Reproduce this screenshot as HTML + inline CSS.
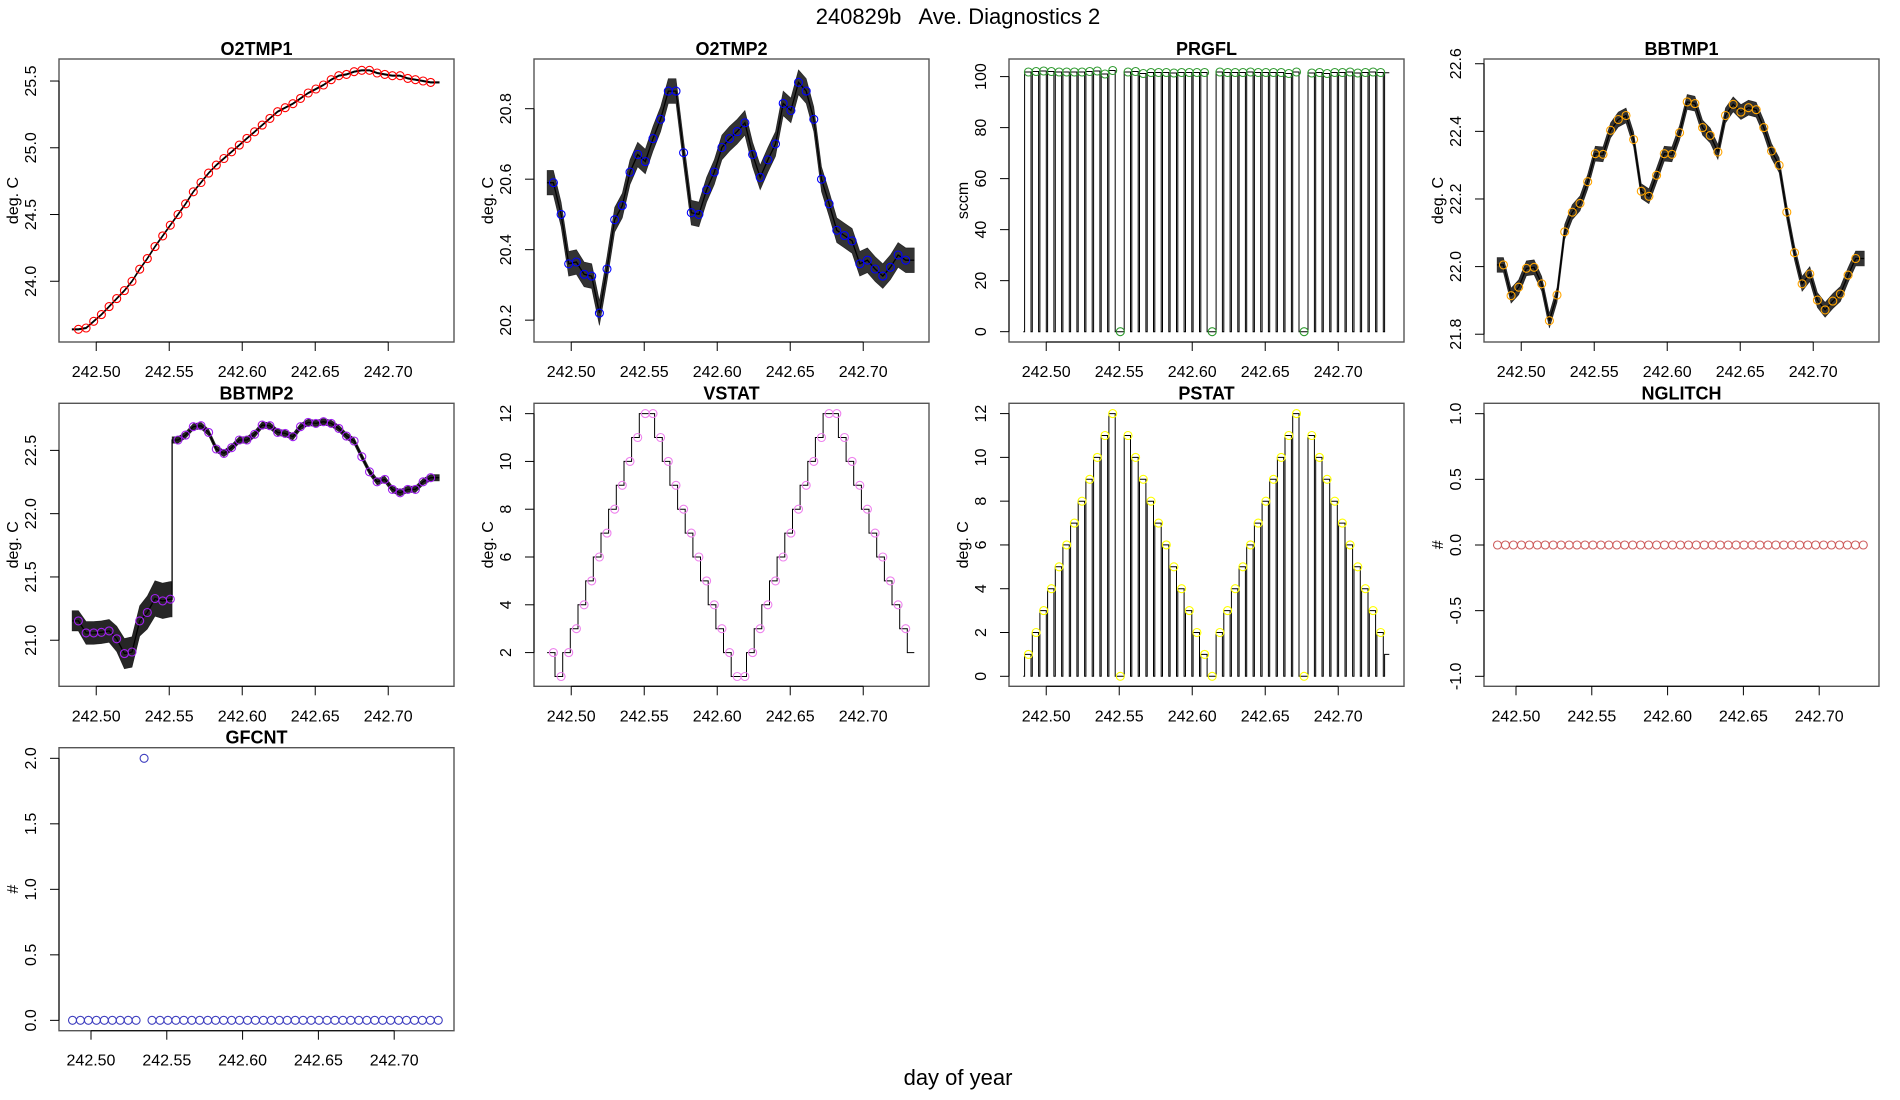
<!DOCTYPE html>
<html><head><meta charset="utf-8"><style>
html,body{margin:0;padding:0;background:#fff;}
svg{display:block;font-family:"Liberation Sans",Arial,sans-serif;}
</style></head><body>
<svg id="fig" width="1900" height="1100" viewBox="0 0 1900 1100" xmlns="http://www.w3.org/2000/svg">
<rect x="0" y="0" width="1900" height="1100" fill="#fff"/>
<text x="958" y="24" font-size="22" text-anchor="middle" xml:space="preserve">240829b   Ave. Diagnostics 2</text>
<text x="958" y="1095" font-size="22" text-anchor="middle" dominant-baseline="auto" transform="translate(0,-10)">day of year</text>
</svg>
<script>
const xTicks = [242.50, 242.55, 242.60, 242.65, 242.70];
const xTickLabels = ["242.50", "242.55", "242.60", "242.65", "242.70"];
const circleStart = 242.4878;
const circleStep = 0.005246;
const lineStart = 242.4835;
const lineEnd = 242.735;

const o2tmp1Vals = [23.64,23.65,23.70,23.75,23.81,23.87,23.93,24.00,24.09,24.17,24.26,24.34,24.42,24.50,24.58,24.67,24.74,24.81,24.87,24.92,24.97,25.02,25.07,25.12,25.17,25.22,25.27,25.30,25.33,25.37,25.41,25.44,25.47,25.51,25.54,25.55,25.57,25.58,25.58,25.56,25.55,25.54,25.54,25.52,25.51,25.50,25.49];
const o2tmp2Vals = [20.59,20.50,20.36,20.365,20.33,20.325,20.22,20.345,20.485,20.525,20.62,20.67,20.65,20.715,20.77,20.85,20.85,20.675,20.505,20.50,20.57,20.62,20.69,20.715,20.735,20.76,20.67,20.605,20.655,20.70,20.815,20.795,20.875,20.85,20.77,20.60,20.53,20.455,20.44,20.425,20.36,20.37,20.345,20.325,20.35,20.385,20.37];
const prgflVals = [101.8,102,102.2,102,101.8,101.8,101.8,101.8,102,102.2,101,102.4,0,101.8,102,101.2,101.6,101.6,101.6,101.4,101.6,101.6,101.6,101.6,0,101.8,101.6,101.6,101.6,101.8,101.6,101.6,101.6,101.6,101.2,101.8,0,101.4,101.6,101.2,101.6,101.6,101.8,101.4,101.6,101.8,101.6];
const bbtmp1Vals = [22.005,21.914,21.939,21.995,21.998,21.949,21.840,21.916,22.103,22.161,22.187,22.251,22.334,22.332,22.403,22.435,22.447,22.376,22.223,22.208,22.270,22.334,22.332,22.396,22.487,22.482,22.411,22.388,22.339,22.447,22.480,22.457,22.470,22.464,22.411,22.342,22.300,22.161,22.041,21.949,21.978,21.901,21.872,21.898,21.919,21.975,22.024];
const bbtmp2Vals = [21.153,21.058,21.058,21.063,21.074,21.011,20.894,20.907,21.153,21.219,21.330,21.311,21.324,22.582,22.621,22.687,22.695,22.642,22.511,22.476,22.521,22.582,22.582,22.627,22.700,22.695,22.642,22.634,22.608,22.687,22.721,22.713,22.727,22.713,22.674,22.613,22.574,22.450,22.331,22.252,22.271,22.192,22.165,22.192,22.192,22.252,22.284];
const bbtmp2Spread = [0.08,0.09,0.09,0.09,0.09,0.1,0.12,0.12,0.12,0.13,0.14,0.14,0.14,0.025,0.025,0.025,0.025,0.025,0.025,0.025,0.025,0.025,0.025,0.025,0.025,0.025,0.025,0.025,0.025,0.025,0.025,0.025,0.025,0.025,0.025,0.025,0.025,0.025,0.025,0.025,0.025,0.025,0.025,0.025,0.025,0.025,0.025];
const vstatVals = [2,1,2,3,4,5,6,7,8,9,10,11,12,12,11,10,9,8,7,6,5,4,3,2,1,1,2,3,4,5,6,7,8,9,10,11,12,12,11,10,9,8,7,6,5,4,3];
const pstatVals = [1,2,3,4,5,6,7,8,9,10,11,12,0,11,10,9,8,7,6,5,4,3,2,1,0,2,3,4,5,6,7,8,9,10,11,12,0,11,10,9,8,7,6,5,4,3,2];
const nglitchVals = [0,0,0,0,0,0,0,0,0,0,0,0,0,0,0,0,0,0,0,0,0,0,0,0,0,0,0,0,0,0,0,0,0,0,0,0,0,0,0,0,0,0,0,0,0,0,0];
const gfcntVals = [0,0,0,0,0,0,0,0,0,2,0,0,0,0,0,0,0,0,0,0,0,0,0,0,0,0,0,0,0,0,0,0,0,0,0,0,0,0,0,0,0,0,0,0,0,0,0];

const o2tmp1YTicks = [24.0, 24.5, 25.0, 25.5];
const o2tmp2YTicks = [20.2, 20.4, 20.6, 20.8];
const prgflYTicks = [0, 20, 40, 60, 80, 100];
const bbtmp1YTicks = [21.8, 22.0, 22.2, 22.4, 22.6];
const bbtmp2YTicks = [21.0, 21.5, 22.0, 22.5];
const vstatYTicks = [2, 4, 6, 8, 10, 12];
const pstatYTicks = [0, 2, 4, 6, 8, 10, 12];
const nglitchYTicks = [-1.0, -0.5, 0.0, 0.5, 1.0];
const gfcntYTicks = [0.0, 0.5, 1.0, 1.5, 2.0];

const NS = "http://www.w3.org/2000/svg";
const svg = document.getElementById("fig");
const W = 395, H = 283;
const rowTops = [59, 403.3, 747.7];

function mk(parent, tag, attrs) {
  const el = document.createElementNS(NS, tag);
  for (const k in attrs) el.setAttribute(k, attrs[k]);
  parent.appendChild(el);
  return el;
}
function ct(i) { return circleStart + i * circleStep; }

function drawPanel(cfg) {
  const left = 59 + cfg.col * 475, top = rowTops[cfg.row];
  const xl = cfg.xlim, yl = cfg.ylim;
  const sx = v => left + (v - xl[0]) / (xl[1] - xl[0]) * W;
  const sy = v => top + H - (v - yl[0]) / (yl[1] - yl[0]) * H;
  const g = mk(svg, "g", {});
  
  

  const clipId = "clip-" + cfg.name;
  const cp = mk(g, "clipPath", {id: clipId});
  mk(cp, "rect", {x: left, y: top, width: W, height: H});
  const plot = mk(g, "g", {"clip-path": "url(#" + clipId + ")"});
  
  

  const vals = cfg.vals;
  if (cfg.kind === "noisy") {
    const up = [], dn = [], mid = [];
    const sp = i => Array.isArray(cfg.spread) ? cfg.spread[i] : cfg.spread;
    up.push([sx(lineStart), sy(vals[0] + sp(0))]);
    dn.push([sx(lineStart), sy(vals[0] - sp(0))]);
    mid.push([sx(lineStart), sy(vals[0])]);
    for (let i = 0; i < vals.length; i++) {
      up.push([sx(ct(i)), sy(vals[i] + sp(i))]);
      dn.push([sx(ct(i)), sy(vals[i] - sp(i))]);
      mid.push([sx(ct(i)), sy(vals[i])]);
      if (cfg.jumpAfter === i) {
        const tj = ct(i) + 0.0012;
        up.push([sx(tj), sy(vals[i] + sp(i))]); dn.push([sx(tj), sy(vals[i] - sp(i))]); mid.push([sx(tj), sy(vals[i])]);
        up.push([sx(tj), sy(vals[i+1] + sp(i+1))]); dn.push([sx(tj), sy(vals[i+1] - sp(i+1))]); mid.push([sx(tj), sy(vals[i+1])]);
      }
    }
    const n = vals.length - 1;
    up.push([sx(lineEnd), sy(vals[n] + sp(n))]);
    dn.push([sx(lineEnd), sy(vals[n] - sp(n))]);
    mid.push([sx(lineEnd), sy(vals[n])]);
    const poly = up.concat(dn.slice().reverse()).map(p => p[0].toFixed(1) + "," + p[1].toFixed(1)).join(" ");
    const band = mk(plot, "polygon", {points: poly, fill: "#000", "fill-opacity": cfg.bandOpacity || 0.8, stroke: "#000", "stroke-width": 0.6, "stroke-opacity": 0.7});
    
    
    const ln = mk(plot, "polyline", {points: mid.map(p => p[0].toFixed(1) + "," + p[1].toFixed(1)).join(" "), fill: "none", stroke: "#000", "stroke-width": cfg.lineWidth || 1.3});
    
    
  } else if (cfg.kind === "step") {
    let d = "M" + sx(lineStart).toFixed(1) + "," + sy(vals[0]).toFixed(1);
    let cur = vals[0];
    for (let i = 0; i < vals.length; i++) {
      const b = ct(i) + 0.0011;
      const nxt = i < vals.length - 1 ? vals[i + 1] : cfg.trail;
      d += " L" + sx(b).toFixed(1) + "," + sy(cur).toFixed(1) + " L" + sx(b).toFixed(1) + "," + sy(nxt).toFixed(1);
      cur = nxt;
    }
    d += " L" + sx(lineEnd).toFixed(1) + "," + sy(cur).toFixed(1);
    const ln = mk(plot, "path", {d: d, fill: "none", stroke: "#000", "stroke-width": 1});
    
    
  } else if (cfg.kind === "pulse") {
    const w = 0.0009;
    let d = "";
    for (let i = 0; i < vals.length; i++) {
      const di = ct(i) - 0.0035;
      const dn = ct(i + 1) - 0.0035;
      const X0 = sx(di).toFixed(1), X1 = sx(di + w).toFixed(1), X2 = sx(dn).toFixed(1);
      const Y0 = sy(0).toFixed(1), Yv = sy(vals[i]).toFixed(1);
      if (i === 0) d += "M" + X0 + "," + Y0; else d += " L" + X0 + "," + Y0;
      d += " L" + X1 + "," + Y0 + " L" + X1 + "," + Yv + " L" + X2 + "," + Yv;
    }
    const dl = ct(vals.length) - 0.0035;
    d += " L" + sx(dl).toFixed(1) + "," + sy(0).toFixed(1) + " L" + sx(dl + w).toFixed(1) + "," + sy(0).toFixed(1) + " L" + sx(dl + w).toFixed(1) + "," + sy(cfg.trail).toFixed(1) + " L" + sx(lineEnd).toFixed(1) + "," + sy(cfg.trail).toFixed(1);
    const ln = mk(plot, "path", {d: d, fill: "none", stroke: "#000", "stroke-width": 1});
    
    
  }

  for (let i = 0; i < vals.length; i++) {
    const c = mk(plot, "circle", {cx: sx(ct(i)).toFixed(1), cy: sy(vals[i]).toFixed(1), r: 4, fill: "none", stroke: cfg.color, "stroke-width": 1.1});
    
    
  }

  const box = mk(g, "rect", {x: left, y: top, width: W, height: H, fill: "none", stroke: "#555", "stroke-width": 1.4});
  
  

  const title = mk(g, "text", {x: left + W / 2, y: top - 4, "font-size": 18, "font-weight": "bold", "text-anchor": "middle"});
  title.textContent = cfg.title;
  
  

  const xb = top + H;
  const xa = mk(g, "line", {x1: sx(xTicks[0]), y1: xb, x2: sx(xTicks[xTicks.length - 1]), y2: xb, stroke: "#000", "stroke-width": 1});
  
  
  for (let i = 0; i < xTicks.length; i++) {
    const X = sx(xTicks[i]);
    const tk = mk(g, "line", {x1: X, y1: xb, x2: X, y2: xb + 9, stroke: "#000", "stroke-width": 1});
    
    
    const tl = mk(g, "text", {x: X, y: xb + 35, "font-size": 16, "text-anchor": "middle"});
    tl.textContent = xTickLabels[i];
    
    
  }
  const yt = cfg.yTicks;
  const ya = mk(g, "line", {x1: left, y1: sy(yt[0]), x2: left, y2: sy(yt[yt.length - 1]), stroke: "#000", "stroke-width": 1});
  
  
  for (let i = 0; i < yt.length; i++) {
    const Y = sy(yt[i]);
    const tk = mk(g, "line", {x1: left - 9, y1: Y, x2: left, y2: Y, stroke: "#000", "stroke-width": 1});
    
    
    const lx = left - 23;
    const tl = mk(g, "text", {x: lx, y: Y, "font-size": 16, "text-anchor": "middle", transform: "rotate(-90 " + lx + " " + Y + ")"});
    tl.textContent = yt[i].toFixed(cfg.yDec);
    
    
  }
  const yx = left - 41, yy = top + H / 2;
  const yl2 = mk(g, "text", {x: yx, y: yy, "font-size": 16, "text-anchor": "middle", transform: "rotate(-90 " + yx + " " + yy + ")"});
  yl2.textContent = cfg.ylab;
  
  
}

const XL_LINE = [242.4745, 242.74505];
const XL_PTS = [242.4789, 242.73945];

drawPanel({name: "o2tmp1", title: "O2TMP1", ylab: "deg. C", col: 0, row: 0, xlim: XL_LINE, ylim: [23.545, 25.665], yTicks: o2tmp1YTicks, yDec: 1, color: "#ff0000", kind: "noisy", vals: o2tmp1Vals, spread: 0.006, lineWidth: 1.6});
drawPanel({name: "o2tmp2", title: "O2TMP2", ylab: "deg. C", col: 1, row: 0, xlim: XL_LINE, ylim: [20.138, 20.941], yTicks: o2tmp2YTicks, yDec: 1, color: "#0000ff", kind: "noisy", vals: o2tmp2Vals, spread: 0.035, bandOpacity: 0.8});
drawPanel({name: "prgfl", title: "PRGFL", ylab: "sccm", col: 2, row: 0, xlim: XL_LINE, ylim: [-4.05, 106.9], yTicks: prgflYTicks, yDec: 0, color: "#2e9a2e", kind: "pulse", vals: prgflVals, trail: 101.5});
drawPanel({name: "bbtmp1", title: "BBTMP1", ylab: "deg. C", col: 3, row: 0, xlim: XL_LINE, ylim: [21.777, 22.614], yTicks: bbtmp1YTicks, yDec: 1, color: "#ffa500", kind: "noisy", vals: bbtmp1Vals, spread: 0.022, bandOpacity: 0.8});
drawPanel({name: "bbtmp2", title: "BBTMP2", ylab: "deg. C", col: 0, row: 1, xlim: XL_LINE, ylim: [20.636, 22.872], yTicks: bbtmp2YTicks, yDec: 1, color: "#a020f0", kind: "noisy", vals: bbtmp2Vals, spread: bbtmp2Spread, jumpAfter: 12, bandOpacity: 0.85});
drawPanel({name: "vstat", title: "VSTAT", ylab: "deg. C", col: 1, row: 1, xlim: XL_LINE, ylim: [0.589, 12.433], yTicks: vstatYTicks, yDec: 0, color: "#ee82ee", kind: "step", vals: vstatVals, trail: 2});
drawPanel({name: "pstat", title: "PSTAT", ylab: "deg. C", col: 2, row: 1, xlim: XL_LINE, ylim: [-0.457, 12.47], yTicks: pstatYTicks, yDec: 0, color: "#ffff00", kind: "pulse", vals: pstatVals, trail: 1});
drawPanel({name: "nglitch", title: "NGLITCH", ylab: "#", col: 3, row: 1, xlim: XL_PTS, ylim: [-1.076, 1.079], yTicks: nglitchYTicks, yDec: 1, color: "#cd5c5c", kind: "points", vals: nglitchVals});
drawPanel({name: "gfcnt", title: "GFCNT", ylab: "#", col: 0, row: 2, xlim: XL_PTS, ylim: [-0.079, 2.081], yTicks: gfcntYTicks, yDec: 1, color: "#3d3dbf", kind: "points", vals: gfcntVals});
</script>
</body></html>
